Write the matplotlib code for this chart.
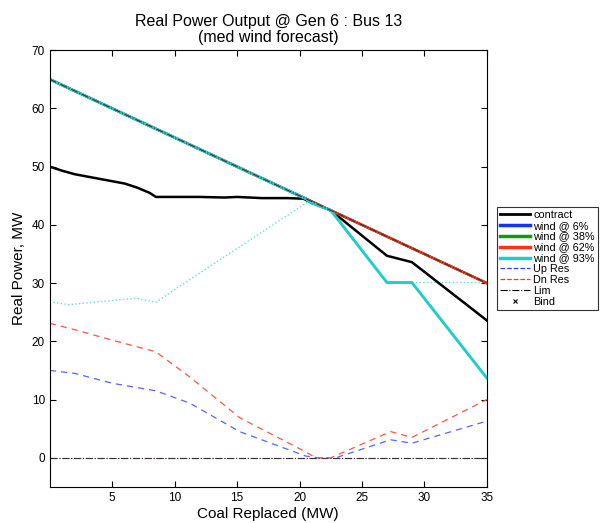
import matplotlib
matplotlib.use("Agg")
import matplotlib.pyplot as plt
from matplotlib.lines import Line2D

plt.rcParams['font.family'] = ['Liberation Sans', 'DejaVu Sans']

# contract
contract_x = [0, 1, 2, 3, 5, 6, 7, 8, 8.5, 10, 12, 14, 15, 17, 19, 20.3, 21, 22.5, 27, 29, 35]
contract_y = [50, 49.3, 48.7, 48.3, 47.5, 47.1, 46.4, 45.5, 44.8, 44.8, 44.8, 44.7, 44.8, 44.6, 44.6, 44.5, 43.8, 42.5, 34.7, 33.6, 23.6]

# wind lines (6%, 38%, 62% coincide)
wind_x = [0, 21, 22.5, 27, 29, 35]
wind_y = [65, 44, 42.5, 38, 36, 30]

wind93_x = [0, 20.5, 21, 22.5, 27, 29, 35]
wind93_y = [65, 44.5, 43.7, 42.5, 30.1, 30.1, 13.7]

# reserves
up_x = [0, 2, 5, 8.5, 11.2, 15.2, 20.5, 21.5, 22.9, 27.3, 29, 35]
up_y = [15, 14.5, 12.8, 11.5, 9.4, 4.5, 0.3, 0, 0, 3.1, 2.5, 6.3]
dn_x = [0, 2, 5, 8.5, 11.2, 15.2, 20.5, 21.3, 22.5, 27.3, 29, 35]
dn_y = [23.1, 22, 20.2, 18.2, 13.9, 6.9, 1, 0, 0, 4.5, 3.5, 10]

# limits
lim_x = [0, 35]
lim_top_y = [65, 30]
lim_zero_y = [0, 0]
lim93_x = [0, 1.5, 6.9, 8.5, 10, 20.7, 21, 22.5, 27, 29, 35]
lim93_y = [26.8, 26.3, 27.4, 26.7, 28.9, 44, 43.7, 42.5, 30.1, 30.1, 30.1]

fig = plt.figure(figsize=(6.07, 5.23), dpi=100)
ax = fig.add_axes([0.082, 0.069, 0.72, 0.835])

ax.plot(lim_x, lim_zero_y, color='#cc44cc', ls='-.', lw=0.8)
ax.plot(lim_x, lim_zero_y, color='#333333', ls='-.', lw=0.8)
ax.plot(lim93_x, lim93_y, color='#66dddd', ls=':', lw=1.0)
ax.plot(up_x, up_y, color='#5566ff', ls=(0, (5, 4)), lw=0.9)
ax.plot(dn_x, dn_y, color='#ff5544', ls=(0, (5, 4)), lw=0.9)

ax.plot(contract_x, contract_y, color='black', lw=1.8)
ax.plot(wind_x, wind_y, color='#1133ff', lw=1.6)
ax.plot(wind_x, wind_y, color='#119911', lw=1.6)
ax.plot(wind_x, wind_y, color='#ff3311', lw=1.9)
ax.plot(wind93_x, wind93_y, color='#22cccc', lw=2.1)
ax.plot(lim_x, lim_top_y, color='#333333', ls='-.', lw=0.8)

ax.set_xlim(0, 35)
ax.set_ylim(-5, 70)
ax.set_xticks([5, 10, 15, 20, 25, 30, 35])
ax.set_yticks([0, 10, 20, 30, 40, 50, 60, 70])
ax.tick_params(direction='in', labelsize=8.5, length=4, top=True, right=True)
ax.set_xlabel('Coal Replaced (MW)', fontsize=11, labelpad=2)
ax.set_ylabel('Real Power, MW', fontsize=11, labelpad=4)
ax.set_title('Real Power Output @ Gen 6 : Bus 13\n(med wind forecast)', fontsize=11.5, pad=6, linespacing=1.1)

handles = [
    Line2D([], [], color='black', lw=2),
    Line2D([], [], color='#1133ff', lw=2.5),
    Line2D([], [], color='#119911', lw=2.5),
    Line2D([], [], color='#ff3311', lw=2.5),
    Line2D([], [], color='#22cccc', lw=2.5),
    Line2D([], [], color='#3344ff', ls='--', lw=0.9),
    Line2D([], [], color='#ff3322', ls='--', lw=0.9),
    Line2D([], [], color='black', ls='-.', lw=0.8),
    Line2D([], [], color='black', ls='none', marker='x', ms=3.5, mew=0.8),
]
labels = ['contract', 'wind @ 6%', 'wind @ 38%', 'wind @ 62%', 'wind @ 93%', 'Up Res', 'Dn Res', 'Lim', 'Bind']
leg = fig.legend(handles, labels, loc='upper left', bbox_to_anchor=(0.818, 0.605),
                 fontsize=7.8, frameon=True, fancybox=False, edgecolor='black',
                 handlelength=2.8, handletextpad=0.3, labelspacing=0.08,
                 borderpad=0.3, borderaxespad=0)
leg.get_frame().set_linewidth(0.8)

fig.savefig('out.png', dpi=100)
